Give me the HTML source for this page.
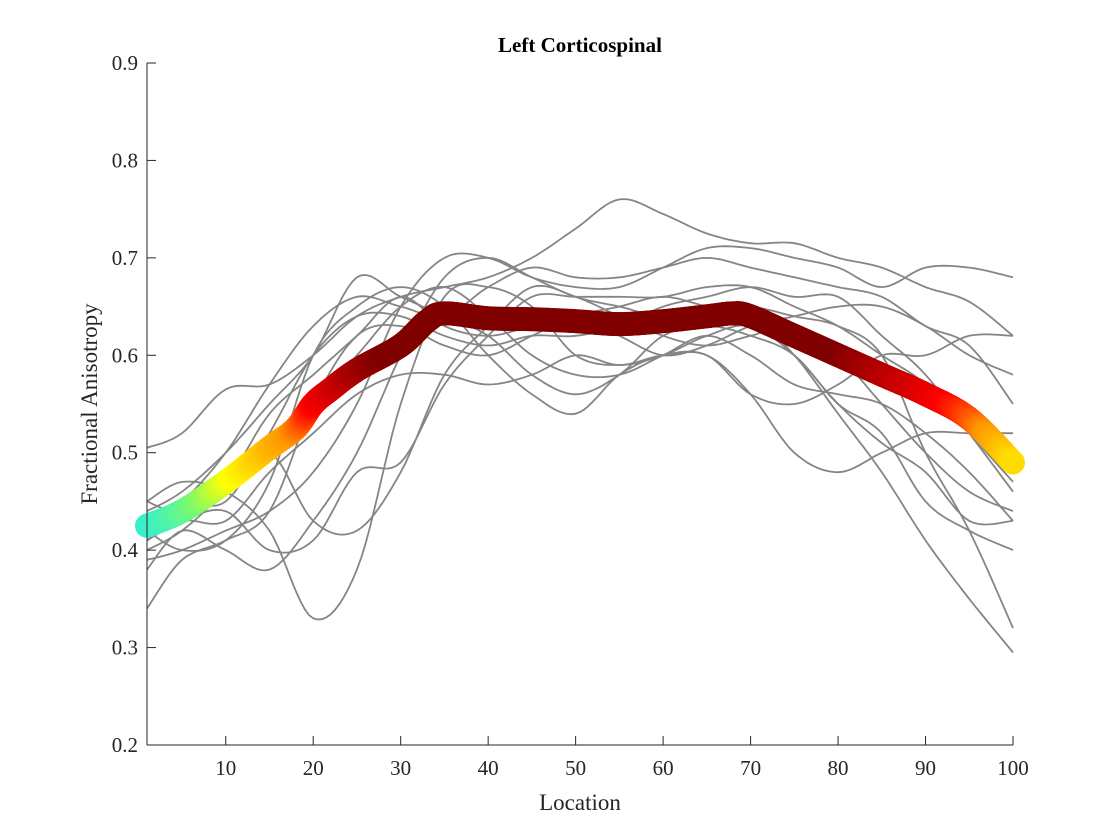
<!DOCTYPE html>
<html><head><meta charset="utf-8"><style>
body{margin:0;background:#fff}
svg{display:block;font-family:"Liberation Serif",serif}
</style></head><body>
<svg id="chart" width="1120" height="840">
<rect x="0" y="0" width="1120" height="840" fill="#fff"/>
<g id="grays"></g>
<g id="mean"></g>
<g id="axes"></g>
<text x="580" y="52" text-anchor="middle" font-size="21" font-weight="bold" fill="#000">Left Corticospinal</text>
<text x="580" y="810" text-anchor="middle" font-size="23" fill="#262626">Location</text>
<text transform="translate(97,404) rotate(-90)" text-anchor="middle" font-size="23" fill="#262626">Fractional Anisotropy</text>
</svg>
<script>
const xSamples=[1,5,10,15,20,25,30,35,40,45,50,55,60,65,70,75,80,85,90,95,100];
const subjects=[
[0.505,0.52,0.565,0.57,0.6,0.64,0.66,0.67,0.68,0.7,0.73,0.76,0.745,0.725,0.715,0.715,0.7,0.69,0.67,0.655,0.62],
[0.45,0.47,0.46,0.42,0.33,0.38,0.55,0.66,0.67,0.65,0.6,0.59,0.6,0.62,0.63,0.6,0.55,0.51,0.48,0.43,0.43],
[0.34,0.39,0.41,0.44,0.55,0.62,0.63,0.61,0.6,0.62,0.64,0.65,0.66,0.65,0.64,0.6,0.54,0.48,0.41,0.35,0.295],
[0.38,0.42,0.4,0.38,0.43,0.5,0.6,0.68,0.7,0.68,0.66,0.65,0.64,0.65,0.65,0.64,0.63,0.6,0.5,0.42,0.32],
[0.42,0.4,0.41,0.47,0.6,0.65,0.67,0.65,0.6,0.56,0.54,0.58,0.6,0.6,0.56,0.5,0.48,0.5,0.52,0.52,0.52],
[0.39,0.4,0.42,0.44,0.48,0.55,0.65,0.7,0.7,0.68,0.67,0.67,0.69,0.71,0.71,0.7,0.69,0.67,0.69,0.69,0.68],
[0.44,0.46,0.5,0.55,0.6,0.68,0.66,0.64,0.62,0.58,0.56,0.58,0.62,0.63,0.62,0.6,0.55,0.52,0.45,0.42,0.4],
[0.41,0.43,0.43,0.48,0.52,0.56,0.58,0.58,0.57,0.58,0.6,0.59,0.6,0.6,0.56,0.55,0.57,0.6,0.6,0.62,0.62],
[0.45,0.44,0.47,0.54,0.58,0.62,0.66,0.63,0.62,0.63,0.64,0.62,0.6,0.61,0.63,0.64,0.65,0.65,0.63,0.6,0.58],
[0.43,0.45,0.5,0.57,0.63,0.66,0.65,0.64,0.67,0.69,0.68,0.68,0.69,0.7,0.69,0.68,0.67,0.66,0.63,0.61,0.55],
[0.4,0.42,0.46,0.5,0.43,0.42,0.48,0.58,0.63,0.67,0.66,0.64,0.62,0.61,0.62,0.63,0.6,0.55,0.5,0.46,0.44],
[0.43,0.45,0.45,0.52,0.6,0.64,0.64,0.62,0.61,0.62,0.62,0.63,0.65,0.66,0.67,0.66,0.66,0.62,0.58,0.52,0.46],
[0.41,0.44,0.48,0.5,0.55,0.6,0.65,0.67,0.64,0.6,0.58,0.58,0.6,0.62,0.6,0.57,0.56,0.55,0.52,0.48,0.43],
[0.41,0.43,0.44,0.4,0.41,0.48,0.49,0.57,0.62,0.66,0.66,0.66,0.66,0.67,0.67,0.65,0.63,0.6,0.57,0.52,0.47]
];
const meanX=[1,5,10,15,18,20,22,25,30,33,35,40,45,50,55,60,65,68,70,75,80,85,90,95,100];
const meanY=[0.425,0.44,0.47,0.505,0.525,0.55,0.565,0.585,0.61,0.635,0.643,0.638,0.637,0.635,0.632,0.635,0.64,0.643,0.64,0.62,0.6,0.58,0.56,0.535,0.49];
const xTicks=[10,20,30,40,50,60,70,80,90,100];
const yTicks=[0.2,0.3,0.4,0.5,0.6,0.7,0.8,0.9];

const X0=147,X1=1013,Y0=745,Y1=63;
const sx=v=>X0+(v-1)/(99)*(X1-X0);
const sy=v=>Y0-(v-0.2)/0.7*(Y0-Y1);
const NS='http://www.w3.org/2000/svg';
function mk(t,a,p){const e=document.createElementNS(NS,t);for(const k in a)e.setAttribute(k,a[k]);p.appendChild(e);return e;}
function spline(xs,ys,n){const out=[];for(let i=0;i<xs.length-1;i++){const i0=Math.max(0,i-1),i3=Math.min(xs.length-1,i+2);
for(let s=0;s<n;s++){const t=s/n;const f=(a,b,c,d)=>0.5*((2*b)+(-a+c)*t+(2*a-5*b+4*c-d)*t*t+(-a+3*b-3*c+d)*t*t*t);
out.push([f(xs[i0],xs[i],xs[i+1],xs[i3]),f(ys[i0],ys[i],ys[i+1],ys[i3])]);}}
out.push([xs[xs.length-1],ys[ys.length-1]]);return out;}
const gG=document.getElementById('grays');
subjects.forEach((s,i)=>{const pts=spline(xSamples.map(sx),s.map(sy),10);
const p=mk('polyline',{points:pts.map(q=>q[0].toFixed(1)+','+q[1].toFixed(1)).join(' '),fill:'none',stroke:'#858585','stroke-width':1.8},gG);

});
function col(v){const stops=[[0.425,[50,240,210]],[0.45,[120,250,110]],[0.475,[255,255,0]],[0.52,[255,150,0]],[0.55,[255,0,0]],[0.6,[128,0,0]]];
if(v<=stops[0][0])return 'rgb('+stops[0][1]+')';for(let i=1;i<stops.length;i++){if(v<=stops[i][0]){const t=(v-stops[i-1][0])/(stops[i][0]-stops[i-1][0]);
const c=stops[i-1][1].map((a,k)=>Math.round(a+(stops[i][1][k]-a)*t));return 'rgb('+c+')';}}return 'rgb(128,0,0)';}
const gM=document.getElementById('mean');
const mpts=spline(meanX,meanY,30);
mpts.forEach(q=>{const c=mk('circle',{cx:sx(q[0]).toFixed(1),cy:sy(q[1]).toFixed(1),r:12,fill:col(q[1])},gM);

});
const gA=document.getElementById('axes');
mk('line',{x1:X0,y1:Y1,x2:X0,y2:Y0,stroke:'#262626','stroke-width':1},gA);
mk('line',{x1:X0,y1:Y0,x2:X1,y2:Y0,stroke:'#262626','stroke-width':1},gA);
xTicks.forEach(t=>{const x=sx(t);mk('line',{x1:x,y1:Y0,x2:x,y2:Y0-9,stroke:'#262626'},gA);
const tx=mk('text',{x:x,y:Y0+30,'text-anchor':'middle','font-size':21,fill:'#262626'},gA);tx.textContent=t;

});
yTicks.forEach(t=>{const y=sy(t);mk('line',{x1:X0,y1:y,x2:X0+9,y2:y,stroke:'#262626'},gA);
const tx=mk('text',{x:X0-9,y:y+7,'text-anchor':'end','font-size':21,fill:'#262626'},gA);tx.textContent=t.toFixed(1);

});
</script>
</body></html>
